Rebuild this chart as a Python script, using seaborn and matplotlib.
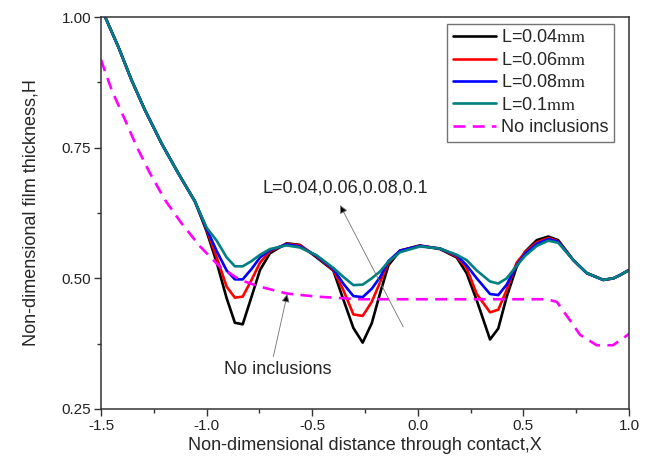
"""
Film thickness profile through the contact for several inclusion sizes
"""

import numpy as np
import pandas as pd
import matplotlib
matplotlib.use('Agg')
import matplotlib.pyplot as plt
from matplotlib.ticker import MultipleLocator, FormatStrFormatter
import seaborn as sns

# shared X grid for the four inclusion curves
X_L = [-1.5, -1.478, -1.418, -1.355, -1.292, -1.213, -1.134, -1.055, -1.0, -0.952,
       -0.905, -0.866, -0.829, -0.787, -0.747, -0.70, -0.621, -0.558, -0.479, -0.40,
       -0.353, -0.305, -0.261, -0.218, -0.179, -0.139, -0.084, 0.010, 0.105, 0.184,
       0.231, 0.279, 0.342, 0.381, 0.421, 0.468, 0.508, 0.563, 0.618, 0.665,
       0.736, 0.80, 0.878, 0.926, 0.957, 1.0]

H_L004 = [1.02, 0.998, 0.943, 0.879, 0.822, 0.758, 0.701, 0.647, 0.590, 0.530,
          0.462, 0.415, 0.412, 0.465, 0.516, 0.548, 0.567, 0.564, 0.540, 0.515,
          0.460, 0.405, 0.377, 0.414, 0.471, 0.525, 0.553, 0.563, 0.556, 0.540,
          0.510, 0.458, 0.383, 0.404, 0.465, 0.522, 0.551, 0.573, 0.580, 0.573,
          0.535, 0.510, 0.497, 0.500, 0.506, 0.516]

H_L006 = [1.02, 0.998, 0.943, 0.879, 0.822, 0.758, 0.701, 0.647, 0.594, 0.540,
          0.484, 0.463, 0.465, 0.497, 0.530, 0.552, 0.566, 0.563, 0.542, 0.516,
          0.478, 0.431, 0.428, 0.455, 0.492, 0.530, 0.553, 0.562, 0.557, 0.542,
          0.520, 0.470, 0.435, 0.440, 0.478, 0.530, 0.550, 0.569, 0.577, 0.571,
          0.535, 0.510, 0.497, 0.500, 0.506, 0.516]

H_L008 = [1.02, 0.998, 0.943, 0.879, 0.822, 0.758, 0.701, 0.647, 0.595, 0.552,
          0.515, 0.498, 0.498, 0.518, 0.540, 0.554, 0.565, 0.561, 0.543, 0.518,
          0.490, 0.466, 0.464, 0.480, 0.502, 0.533, 0.553, 0.562, 0.557, 0.544,
          0.525, 0.500, 0.470, 0.468, 0.488, 0.525, 0.547, 0.566, 0.575, 0.570,
          0.535, 0.510, 0.497, 0.500, 0.506, 0.516]

H_L010 = [1.02, 0.998, 0.943, 0.879, 0.822, 0.758, 0.701, 0.647, 0.597, 0.572,
          0.540, 0.523, 0.523, 0.533, 0.545, 0.556, 0.563, 0.559, 0.544, 0.520,
          0.503, 0.487, 0.488, 0.500, 0.513, 0.532, 0.550, 0.561, 0.557, 0.545,
          0.535, 0.515, 0.494, 0.490, 0.500, 0.524, 0.543, 0.562, 0.572, 0.568,
          0.535, 0.510, 0.497, 0.500, 0.506, 0.516]

X_NONE = [-1.5, -1.449, -1.386, -1.331, -1.268, -1.197, -1.118, -1.031, -0.937, -0.842,
          -0.747, -0.621, -0.479, -0.274, 0.0, 0.30, 0.61, 0.658, 0.72, 0.768,
          0.847, 0.924, 0.995, 1.0]
H_NONE = [0.918, 0.860, 0.803, 0.752, 0.701, 0.650, 0.605, 0.561, 0.522, 0.497,
          0.484, 0.471, 0.465, 0.460, 0.460, 0.460, 0.460, 0.455, 0.420, 0.392,
          0.372, 0.372, 0.392, 0.394]

LABELS = [r'L=0.04$\mathrm{mm}$', r'L=0.06$\mathrm{mm}$',
          r'L=0.08$\mathrm{mm}$', r'L=0.1$\mathrm{mm}$', 'No inclusions']
COLORS = ['black', '#ff0000', '#0000ff', '#008080', '#ff00ff']

sns.set_style('ticks')
plt.rcParams['font.family'] = ['Liberation Sans', 'DejaVu Sans']
plt.rcParams['mathtext.fontset'] = 'stix'
plt.rcParams['xtick.direction'] = 'out'
plt.rcParams['ytick.direction'] = 'out'

fig = plt.figure(figsize=(6.49, 4.70), dpi=100)
ax = fig.add_axes([0.1556, 0.1298, 0.8136, 0.834])

lw = 1.9
for h, lab, col in zip([H_L004, H_L006, H_L008, H_L010], LABELS[:4], COLORS[:4]):
    df = pd.DataFrame({'X': X_L, 'H': h})
    sns.lineplot(data=df, x='X', y='H', ax=ax, color=col, lw=lw, label=lab,
                 sort=False, estimator=None)

df_none = pd.DataFrame({'X': X_NONE, 'H': H_NONE})
sns.lineplot(data=df_none, x='X', y='H', ax=ax, color=COLORS[4], lw=lw,
             label=LABELS[4], sort=False, estimator=None, linestyle=(0, (4.5, 2.8)))

ax.set_xlim(-1.5, 1.0)
ax.set_ylim(0.25, 1.0)
ax.xaxis.set_major_locator(MultipleLocator(0.5))
ax.xaxis.set_minor_locator(MultipleLocator(0.25))
ax.yaxis.set_major_locator(MultipleLocator(0.25))
ax.yaxis.set_minor_locator(MultipleLocator(0.125))
ax.xaxis.set_major_formatter(FormatStrFormatter('%.1f'))
ax.yaxis.set_major_formatter(FormatStrFormatter('%.2f'))
ax.tick_params(which='major', length=5, width=1, labelsize=11, color='#333333',
               labelcolor='#222222', pad=2)
ax.tick_params(which='minor', length=3, width=1, color='#333333')
for sp in ax.spines.values():
    sp.set_visible(True)
    sp.set_linewidth(1.1)
    sp.set_color('#333333')

ax.set_xlabel('Non-dimensional distance through contact,X', fontsize=13, labelpad=3)
ax.set_ylabel('Non-dimensional film thickness,H', fontsize=13, labelpad=16)

arrow_kw = dict(arrowstyle='-|>', lw=0.6, ec='0.45', fc='black',
                mutation_scale=12, shrinkA=0, shrinkB=0)
ax.annotate('', xy=(-0.368, 0.640), xytext=(-0.069, 0.407), arrowprops=arrow_kw)
ax.annotate('', xy=(-0.618, 0.470), xytext=(-0.684, 0.350), arrowprops=arrow_kw)
ax.text(-0.345, 0.673, 'L=0.04,0.06,0.08,0.1', fontsize=13, ha='center', va='center')
ax.text(-0.662, 0.325, 'No inclusions', fontsize=13, ha='center', va='center')

leg = ax.legend(loc='upper right', bbox_to_anchor=(0.972, 0.982), fontsize=13,
                frameon=True, fancybox=False, edgecolor='0.45', framealpha=1,
                handlelength=2.4, handletextpad=0.3, labelspacing=0.3,
                borderpad=0.3, borderaxespad=0)
leg.get_frame().set_linewidth(1.0)

plt.savefig('out.png', dpi=100)
plt.close()
